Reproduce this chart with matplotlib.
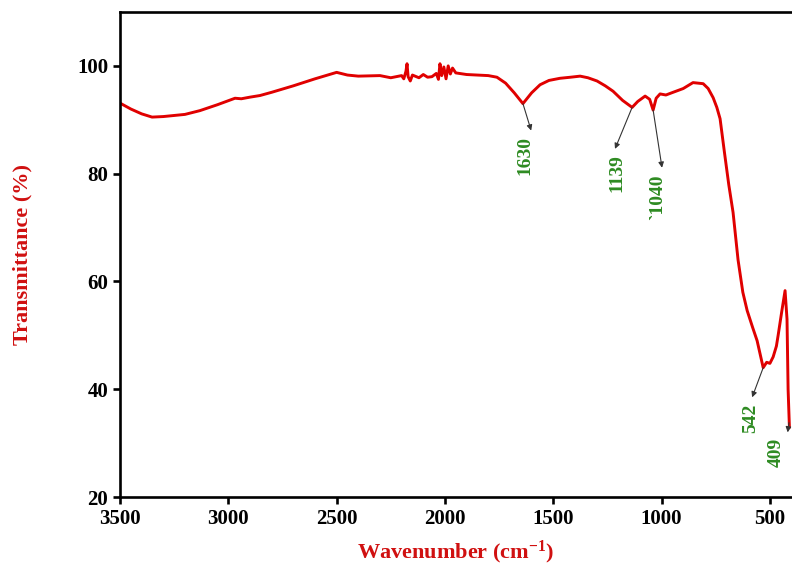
import numpy as np
import matplotlib.pyplot as plt

plt.rcParams['font.family'] = ['Liberation Serif', 'DejaVu Serif']
plt.rcParams['font.weight'] = 'bold'
plt.rcParams['mathtext.fontset'] = 'custom'
plt.rcParams['mathtext.rm'] = 'Liberation Serif:bold'
plt.rcParams['mathtext.bf'] = 'Liberation Serif:bold'
plt.rcParams['mathtext.default'] = 'rm'

# FTIR spectrum
wavenumber = [3500, 3450, 3400, 3352, 3300, 3250, 3200, 3131, 3050, 2969, 2940, 2900,
              2854, 2800, 2700, 2600, 2500, 2450, 2400, 2300, 2250, 2200, 2190, 2180,
              2175, 2170, 2160, 2150, 2120, 2100, 2080, 2060, 2040, 2030, 2023, 2015,
              2005, 1995, 1985, 1975, 1965, 1950, 1900, 1850, 1800, 1760, 1720, 1680,
              1640, 1600, 1561, 1520, 1469, 1420, 1376, 1340, 1298, 1260, 1224, 1180,
              1136, 1110, 1076, 1055, 1039, 1025, 1007, 980, 947, 900, 855, 808,
              785, 762, 745, 730, 710, 690, 670, 647, 625, 605, 580, 559,
              545, 531, 515, 500, 485, 470, 462, 445, 430, 421, 416, 410]
transmittance = [93.1, 92.0, 91.1, 90.5, 90.6, 90.8, 91.0, 91.7, 92.8, 94.0, 93.9, 94.2,
                 94.5, 95.1, 96.3, 97.6, 98.8, 98.3, 98.1, 98.2, 97.8, 98.2, 97.6, 99.0,
                 100.4, 98.0, 97.2, 98.3, 97.8, 98.4, 97.9, 98.0, 98.6, 97.5, 100.4, 98.2,
                 99.8, 97.6, 100.0, 98.5, 99.6, 98.7, 98.4, 98.3, 98.2, 97.9, 96.8, 95.0,
                 93.0, 95.0, 96.5, 97.3, 97.7, 97.9, 98.1, 97.8, 97.2, 96.3, 95.3, 93.6,
                 92.3, 93.4, 94.4, 93.8, 91.8, 94.0, 94.8, 94.6, 95.1, 95.8, 96.9, 96.7,
                 95.8, 94.1, 92.3, 90.2, 84.0, 78.0, 72.8, 64.0, 58.0, 54.6, 51.5, 49.0,
                 46.5, 44.0, 45.0, 44.8, 46.0, 48.0, 50.0, 54.5, 58.3, 53.0, 40.0, 33.0]

# peak labels: text, curve point, arrow head, text centre
peak_labels = ['1630', '1139', '`1040', '542', '409']
peak_points = [(1640, 93.0), (1136, 92.3), (1039, 91.8), (531, 44.0), (412, 33.8)]
arrow_heads = [(1602, 88.0), (1215, 84.6), (998, 81.1), (582, 38.5), (418, 32.0)]
text_pos = [(1630, 83.3), (1205, 80.2), (1016, 75.6), (591, 34.6), (471, 28.3)]

fig = plt.figure(figsize=(7.92, 5.69), dpi=100)
ax = fig.add_axes([0.1515, 0.1265, 0.8485, 0.8524])

ax.plot(wavenumber, transmittance, color='#e00000', lw=2.1)

for lab, p, h, t in zip(peak_labels, peak_points, arrow_heads, text_pos):
    ax.annotate('', xy=h, xytext=p,
                arrowprops=dict(arrowstyle='-|>', color='#333333', lw=0.8,
                                mutation_scale=8, shrinkA=0, shrinkB=0))
    ax.text(t[0], t[1], lab, rotation=90, ha='center', va='center',
            color='#2e8b22', fontsize=14, fontweight='bold')

ax.set_xlim(3500, 398)
ax.set_ylim(20, 110)
ax.set_xticks([3500, 3000, 2500, 2000, 1500, 1000, 500])
ax.set_yticks([20, 40, 60, 80, 100])
ax.spines['right'].set_visible(False)
for s in ['left', 'bottom', 'top']:
    ax.spines[s].set_linewidth(1.9)
ax.tick_params(direction='out', length=5, width=1.9, labelsize=15)
for lab in ax.get_xticklabels() + ax.get_yticklabels():
    lab.set_fontweight('bold')

ax.set_xlabel('Wavenumber (cm$^{-1}$)', color='#d01010', fontsize=16,
              fontweight='bold', labelpad=7)
ax.set_ylabel('Transmittance (%)', color='#d01010', fontsize=16,
              fontweight='bold', labelpad=32)

plt.savefig('out.png', dpi=100)
